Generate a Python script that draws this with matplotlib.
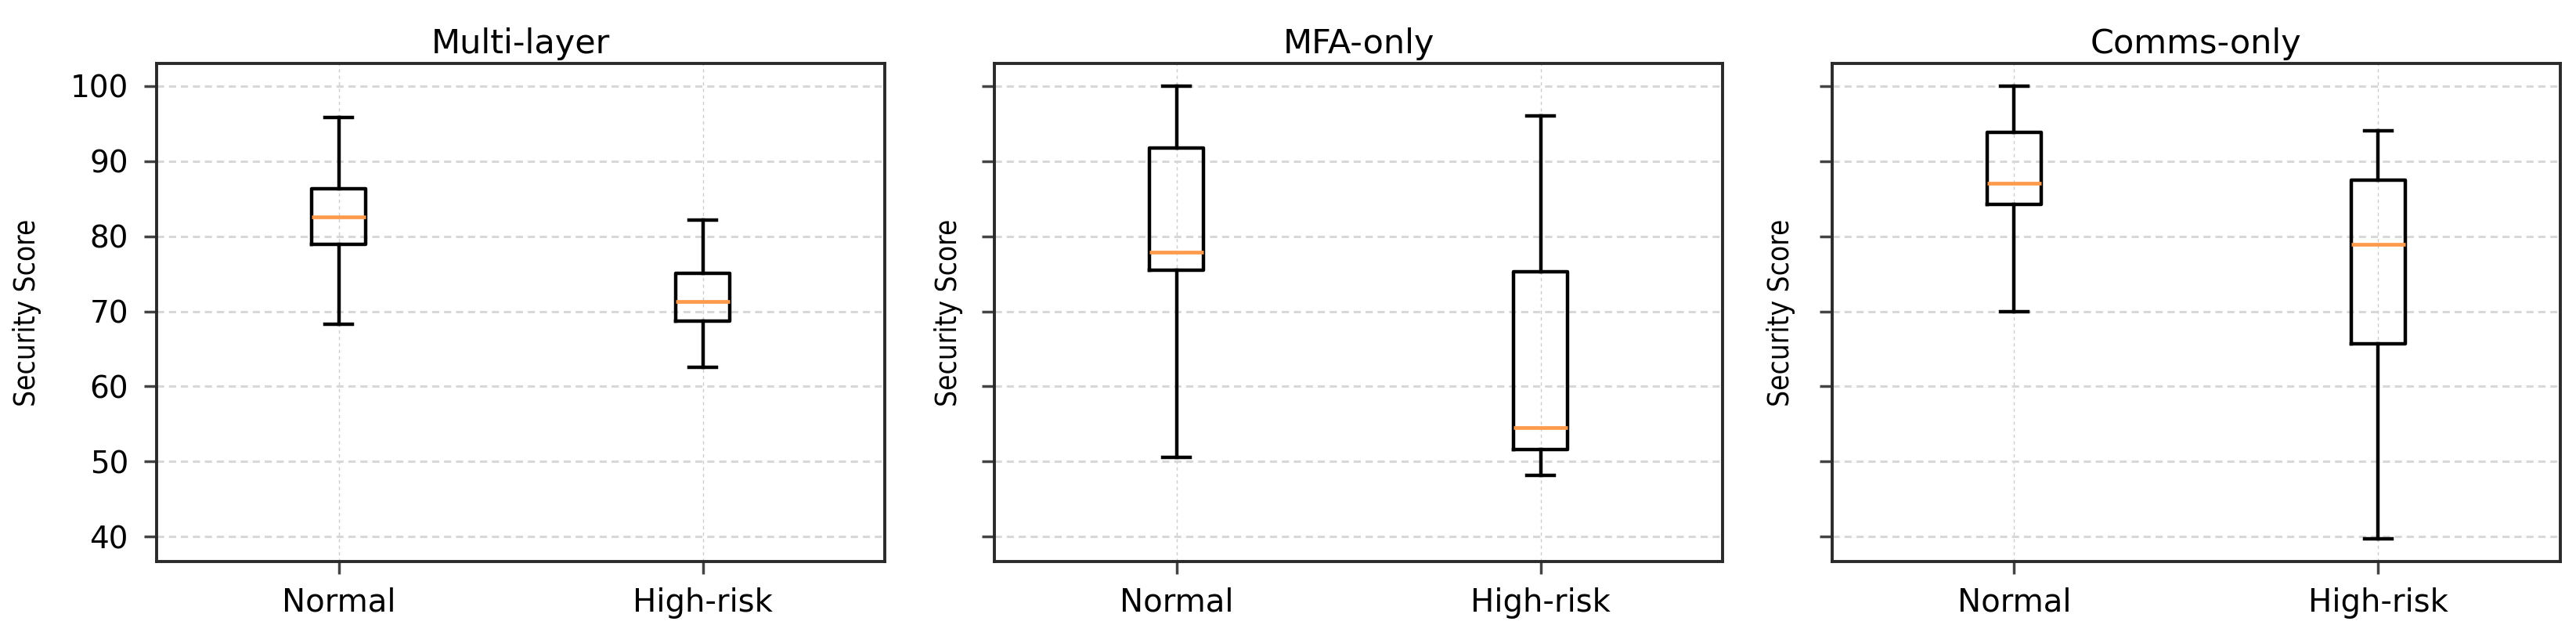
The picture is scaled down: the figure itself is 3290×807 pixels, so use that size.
import matplotlib
matplotlib.use("Agg")
import matplotlib.pyplot as plt

# panel titles and group names
panels = ["Multi-layer", "MFA-only", "Comms-only"]
groups = ["Normal", "High-risk"]

# five-number summaries, one pair (Normal, High-risk) per panel
whis_low = [[68.3, 62.6], [50.6, 48.2], [70.0, 39.7]]
q1 = [[78.9, 68.7], [75.5, 51.6], [84.2, 65.7]]
median = [[82.6, 71.3], [77.9, 54.5], [87.1, 78.9]]
q3 = [[86.3, 75.1], [91.8, 75.3], [93.8, 87.5]]
whis_high = [[95.8, 82.2], [100.0, 96.0], [100.0, 94.1]]

fig, axes = plt.subplots(1, 3, figsize=(32.91, 8.07), dpi=100, sharey=True)
fig.subplots_adjust(left=0.0608, right=0.9936, bottom=0.1115, top=0.8996, wspace=0.1505)

label_x = [-0.158, -0.043, -0.05]
box_lw = 3.2
for k, ax in enumerate(axes):
    stats = []
    for g in range(len(groups)):
        stats.append({
            "label": groups[g],
            "whislo": whis_low[k][g],
            "q1": q1[k][g],
            "med": median[k][g],
            "q3": q3[k][g],
            "whishi": whis_high[k][g],
            "fliers": [],
        })
    ax.bxp(
        stats,
        showfliers=False,
        boxprops=dict(color="black", linewidth=box_lw),
        whiskerprops=dict(color="black", linewidth=box_lw),
        capprops=dict(color="black", linewidth=box_lw),
        medianprops=dict(color="#fd9a4c", linewidth=3.4),
    )

    ax.set_title(panels[k], fontsize=31, pad=9.5)
    ax.set_ylabel("Security Score", fontsize=26.5, fontstretch="condensed")
    ax.yaxis.set_label_coords(label_x[k], 0.5)

    # grid: dashed light lines
    ax.yaxis.grid(True, linestyle=(0, (3, 2)), linewidth=2.2, color="#d8d8d8")
    ax.xaxis.grid(True, linestyle=(0, (3, 3)), linewidth=1.0, color="#cccccc")
    ax.set_axisbelow(True)

    for sp in ax.spines.values():
        sp.set_linewidth(2.8)
        sp.set_color("#2a2a2a")

    ax.tick_params(axis="both", length=11.5, width=2.5, color="#444444")
    ax.tick_params(axis="x", labelsize=29, pad=12)
    ax.tick_params(axis="y", labelsize=28, pad=14.5)

fig.savefig("out.png", dpi=100)
